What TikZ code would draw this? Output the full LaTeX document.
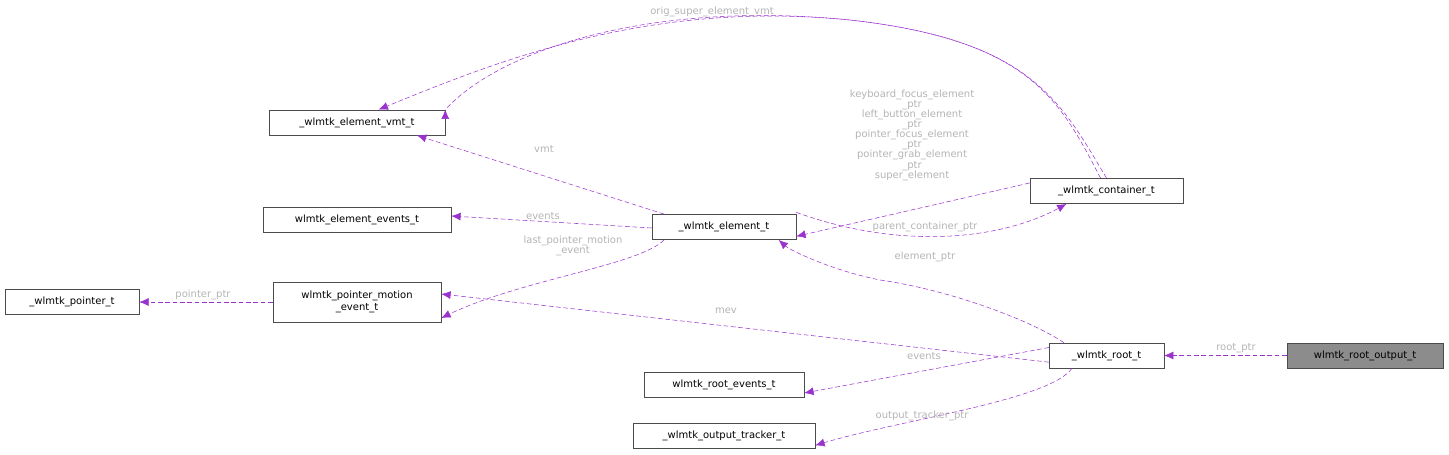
\documentclass[tikz,border=0pt]{standalone}
\usepackage{fontspec}
\setmainfont{DejaVu Sans}
\usetikzlibrary{arrows.meta}
\definecolor{edge}{HTML}{9A32CD}
\definecolor{lbl}{HTML}{B4B4B4}
\begin{document}
\begin{tikzpicture}[x=0.75pt,y=-0.75pt,
  box/.style={draw=black!70,fill=white,inner sep=0pt,minimum height=19pt,font=\fontsize{7.5}{8.6}\selectfont,align=center},
  e/.style={draw=edge,dashed,dash pattern=on 3.5pt off 2pt,-{Latex[length=7pt,width=6pt]}},
  l/.style={text=lbl,font=\fontsize{7.5}{7.6}\selectfont,align=center,inner sep=0pt}]
\useasboundingbox (0,0) rectangle (1449,454);
\node[box,minimum width=132pt] (vmt) at (357,122.5) {\_wlmtk\_element\_vmt\_t};
\node[box,minimum width=141pt] (eev) at (357,220) {wlmtk\_element\_events\_t};
\node[box,minimum width=100.5pt] (ptr) at (72,302) {\_wlmtk\_pointer\_t};
\node[box,minimum width=126pt,minimum height=30pt] (pme) at (357,302) {wlmtk\_pointer\_motion\\\_event\_t};
\node[box,minimum width=108pt] (el) at (724,227) {\_wlmtk\_element\_t};
\node[box,minimum width=115pt] (con) at (1106.5,191) {\_wlmtk\_container\_t};
\node[box,minimum width=86pt] (root) at (1106.5,355.5) {\_wlmtk\_root\_t};
\node[box,minimum width=117pt,fill=black!45] (ro) at (1365,355.5) {wlmtk\_root\_output\_t};
\node[box,minimum width=120pt] (rev) at (724,385) {wlmtk\_root\_events\_t};
\node[box,minimum width=136.5pt] (ot) at (724,436) {\_wlmtk\_output\_tracker\_t};

\draw[e] (con.north) ++(-6,0) coordinate (c1) .. controls (1060,100) and (1030,40) .. (850,20) .. controls (650,0) and (500,50) .. (vmt.north east) ++(0,0);
\draw[e] (con.north) .. controls (1060,100) and (1030,40) .. (850,20) .. controls (650,0) and (500,60) .. ([xshift=-50pt]vmt.north east);
\node[l] (t1) at (712,12) {orig\_super\_element\_vmt};
\draw[e] ([xshift=-45]el.north) -- ([xshift=45]vmt.south);
\node[l] (t2) at (544,149) {vmt};
\draw[e] (el.west) ++(0,1) -- ([yshift=3]eev.east);
\node[l] (t3) at (543,216) {events};
\draw[e] ([xshift=-45]el.south) .. controls (640,265) and (520,280) .. ([yshift=-12]pme.east);
\node[l] (t4) at (573,246) {last\_pointer\_motion\\\_event};
\draw[e] (pme.west) -- (ptr.east);
\node[l] (t5) at (203,295) {pointer\_ptr};
\draw[e] ([yshift=6]con.west) -- ([yshift=-7]el.east);
\node[l] (t6) at (912,135) {keyboard\_focus\_element\\\_ptr\\left\_button\_element\\\_ptr\\pointer\_focus\_element\\\_ptr\\pointer\_grab\_element\\\_ptr\\super\_element};
\draw[e] ([yshift=11]el.east) .. controls (900,250) and (1000,240) .. ([xshift=-30]con.south);
\node[l] (t7) at (925,227) {parent\_container\_ptr};
\draw[e] ([xshift=-32]root.north) .. controls (1030,320) and (950,290) .. (880,280) .. controls (830,270) and (790,250) .. ([xshift=41]el.south);
\node[l] (t8) at (925,257) {element\_ptr};
\draw[e] ([yshift=-5]root.west) -- ([yshift=6]pme.east);
\node[l] (t9) at (726,311) {mev};
\draw[e] ([yshift=6]root.west) -- ([yshift=-6]rev.east);
\node[l] (t10) at (924,356) {events};
\draw[e] ([xshift=-26]root.south) .. controls (1050,400) and (900,420) .. ([yshift=-7]ot.east);
\node[l] (t11) at (922,416) {output\_tracker\_ptr};
\draw[e] (ro.west) -- (root.east);
\node[l] (t12) at (1236,348) {root\_ptr};
\end{tikzpicture}
\end{document}
